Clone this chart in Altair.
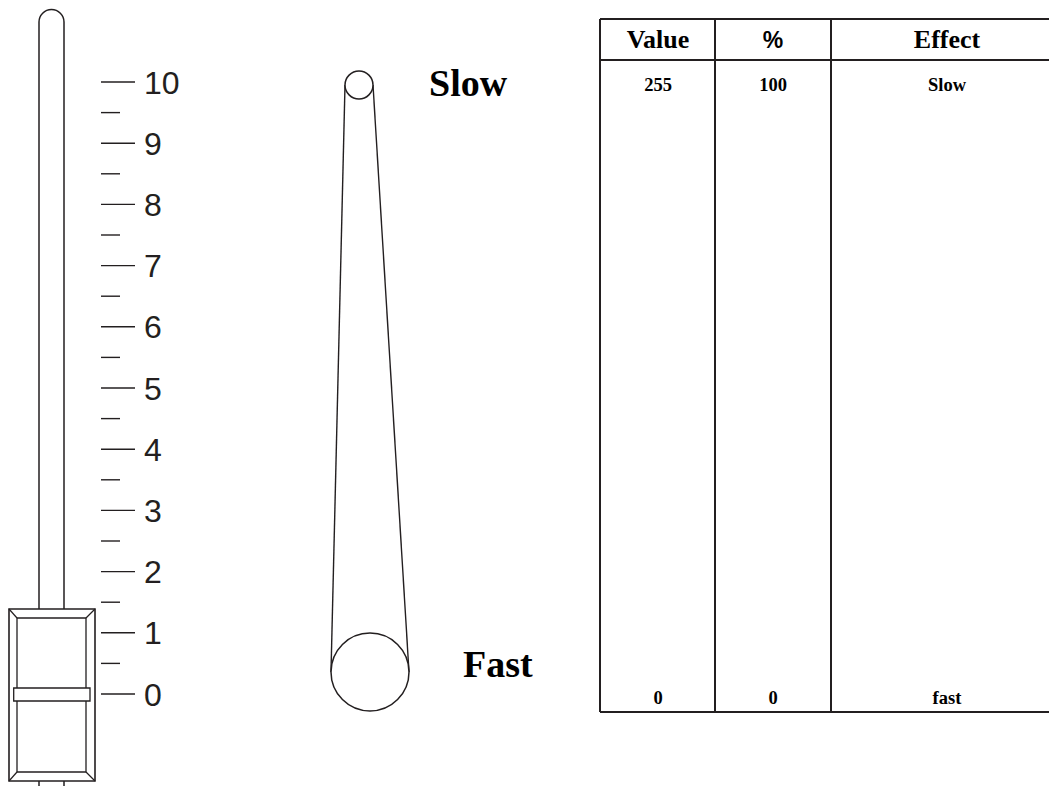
import altair as alt
import pandas as pd

# ---------------- data ----------------
dial_major = [0, 1, 2, 3, 4, 5, 6, 7, 8, 9, 10]
dial_minor = [0.5, 1.5, 2.5, 3.5, 4.5, 5.5, 6.5, 7.5, 8.5, 9.5]
speed_words = ["Slow", "Fast"]
table_headers = ["Value", "%", "Effect"]
table_first_row = ["255", "100", "Slow"]
table_last_row = ["0", "0", "fast"]

# ---------------- layout ----------------
INK = "#231f20"
W, H = 1041, 778
PX0, PY0 = 8, 8  # page margin: data coordinates are page pixels

xs = alt.Scale(domain=[PX0, PX0 + W], nice=False, zero=False)
ys = alt.Scale(domain=[PY0, PY0 + H], reverse=True, nice=False, zero=False)

# dial scale: value 0 sits at 694px, value 10 at 82px
ZERO_PX, TEN_PX = 694, 82
per_px = 10 / (ZERO_PX - TEN_PX)
dial_scale = alt.Scale(domain=[(ZERO_PX - (PY0 + H)) * per_px, (ZERO_PX - PY0) * per_px],
                       nice=False, zero=False)


def rects(rows, **mk):
    df = pd.DataFrame(rows, columns=["x", "x2", "y", "y2"])
    return alt.Chart(df).mark_rect(**mk).encode(
        x=alt.X("x:Q", scale=xs, axis=None), x2="x2:Q",
        y=alt.Y("y:Q", scale=ys, axis=None), y2="y2:Q")


def segs(rows, **mk):
    df = pd.DataFrame(rows, columns=["x", "x2", "y", "y2"])
    return alt.Chart(df).mark_rule(**mk).encode(
        x=alt.X("x:Q", scale=xs, axis=None), x2="x2:Q",
        y=alt.Y("y:Q", scale=ys, axis=None), y2="y2:Q")


def texts(words, xpos, ypos, **mk):
    df = pd.DataFrame({"t": words, "x": xpos, "y": ypos})
    return alt.Chart(df).mark_text(**mk).encode(
        x=alt.X("x:Q", scale=xs, axis=None),
        y=alt.Y("y:Q", scale=ys, axis=None),
        text="t:N")


# slider track and knob
track = rects([(39, 64, 9.5, 800)], fill="white", stroke=INK, strokeWidth=1.5, cornerRadius=12.5)
knob_outer = rects([(9, 95, 609, 781)], fill="white", stroke=INK, strokeWidth=1.6)
knob_inner = rects([(17, 86, 618, 772)], fill="white", stroke=INK, strokeWidth=1.3)
knob_bevel = segs([(9, 17, 609, 618), (95, 86, 609, 618), (9, 17, 781, 772), (95, 86, 781, 772)],
                  color=INK, strokeWidth=1.2)
knob_bar = rects([(13.7, 90, 688, 701)], fill="white", stroke=INK, strokeWidth=1.3)

# dial ticks + labels
major_df = pd.DataFrame({"v": dial_major, "x": 101, "x2": 135, "lx": 144,
                         "lab": [str(v) for v in dial_major]})
minor_df = pd.DataFrame({"v": dial_minor, "x": 101, "x2": 120})
major_ticks = alt.Chart(major_df).mark_rule(color=INK, strokeWidth=1.4).encode(
    x=alt.X("x:Q", scale=xs, axis=None), x2="x2:Q",
    y=alt.Y("v:Q", scale=dial_scale, axis=None))
minor_ticks = alt.Chart(minor_df).mark_rule(color=INK, strokeWidth=1.4).encode(
    x=alt.X("x:Q", scale=xs, axis=None), x2="x2:Q",
    y=alt.Y("v:Q", scale=dial_scale, axis=None))
dial_labels = alt.Chart(major_df).mark_text(
    align="left", baseline="alphabetic", dy=11.5, font="Liberation Sans",
    fontSize=32, color=INK).encode(
    x=alt.X("lx:Q", scale=xs, axis=None),
    y=alt.Y("v:Q", scale=dial_scale, axis=None),
    text="lab:N")

# speed pointer
pointer_lines = segs([(345, 331, 85, 672), (373, 409, 85, 672)], color=INK, strokeWidth=1.4)
circ_df = pd.DataFrame({"x": [359, 370], "y": [85, 672], "s": [28 ** 2, 78 ** 2]})
pointer_circles = alt.Chart(circ_df).mark_point(
    shape="circle", filled=True, fill="white", fillOpacity=1, opacity=1,
    stroke=INK, strokeWidth=1.5).encode(
    x=alt.X("x:Q", scale=xs, axis=None),
    y=alt.Y("y:Q", scale=ys, axis=None),
    size=alt.Size("s:Q", scale=None))
speed_text = texts(speed_words, [429, 463], [96, 677], align="left", baseline="alphabetic",
                   font="Liberation Serif", fontWeight="bold", fontSize=38, color="black")

# table
T_L, T_R = 600, PX0 + W
T_TOP, T_HEAD, T_BOT = 19, 60, 712
COLS = [600, 715, 831]
table_h = segs([(T_L, T_R, T_TOP, T_TOP), (T_L, T_R, T_HEAD, T_HEAD), (T_L, T_R, T_BOT, T_BOT)],
               color=INK, strokeWidth=2)
table_v = segs([(c, c, T_TOP, T_BOT) for c in COLS], color=INK, strokeWidth=2)
centers = [658, 773, 947]
serif_heads = [h for h in table_headers if h != "%"]
head_serif = texts(serif_heads, [c for h, c in zip(table_headers, centers) if h != "%"],
                   [48] * len(serif_heads), align="center", baseline="alphabetic",
                   font="Liberation Serif", fontWeight="bold", fontSize=26, color="black")
head_pct = texts([h for h in table_headers if h == "%"],
                 [c for h, c in zip(table_headers, centers) if h == "%"], [48],
                 align="center", baseline="alphabetic", font="Liberation Sans",
                 fontWeight="bold", fontSize=23, color="black")
row1 = texts(table_first_row, centers, [90.5] * 3, align="center", baseline="alphabetic",
             font="Liberation Serif", fontWeight="bold", fontSize=18.5, color="black")
row2 = texts(table_last_row, centers, [703.5] * 3, align="center", baseline="alphabetic",
             font="Liberation Serif", fontWeight="bold", fontSize=18.5, color="black")

chart = alt.layer(
    track, knob_outer, knob_inner, knob_bevel, knob_bar,
    major_ticks, minor_ticks, dial_labels,
    pointer_lines, pointer_circles, speed_text,
    table_h, table_v, head_serif, head_pct, row1, row2,
).resolve_scale(y="independent").properties(
    width=W, height=H, autosize=alt.AutoSizeParams(type="none"), padding=0,
    background="white",
).configure_view(stroke=None)

chart.save("out.html", embed_options={"renderer": "svg", "actions": False})
